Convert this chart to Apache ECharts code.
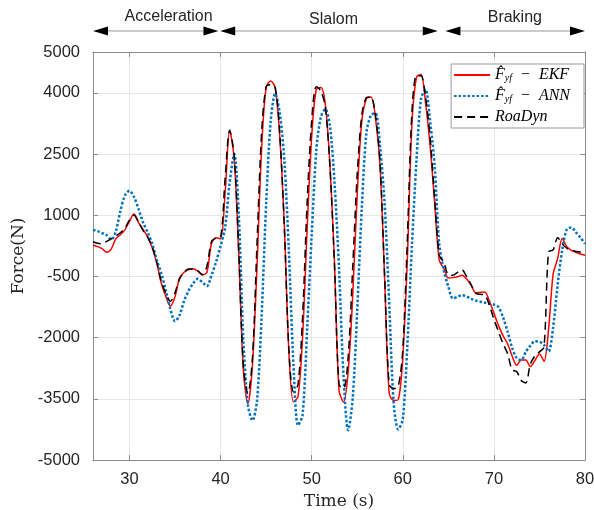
<!DOCTYPE html>
<html>
<head>
<meta charset="utf-8">
<script src="https://cdn.jsdelivr.net/npm/echarts@6/dist/echarts.min.js"></script>
<style>
  html, body { margin: 0; padding: 0; background: #fff; }
  #main { width: 594px; height: 510px; }
</style>
</head>
<body>
<div id="main"></div>
<script>
// time axis (s)
const time = [
  26, 26.5, 27, 27.5, 28, 28.5, 29, 29.5, 30, 30.5,
  31, 31.5, 32, 32.5, 33, 33.5, 34, 34.5, 35, 35.5,
  36, 36.5, 37, 37.5, 38, 38.5, 39, 39.5, 40, 40.5,
  41, 41.5, 42, 42.5, 43, 43.5, 44, 44.5, 45, 45.5,
  46, 46.5, 47, 47.5, 48, 48.5, 49, 49.5, 50, 50.5,
  51, 51.5, 52, 52.5, 53, 53.5, 54, 54.5, 55, 55.5,
  56, 56.5, 57, 57.5, 58, 58.5, 59, 59.5, 60, 60.5,
  61, 61.5, 62, 62.5, 63, 63.5, 64, 64.5, 65, 65.5,
  66, 66.5, 67, 67.5, 68, 68.5, 69, 69.5, 70, 70.5,
  71, 71.5, 72, 72.5, 73, 73.5, 74, 74.5, 75, 75.5,
  76, 76.5, 77, 77.5, 78, 78.5, 79, 79.5, 80
];

// lateral force estimates (N)
const ekf = [
  270, 230, 180, 90, 170, 420, 520, 640, 850, 1030,
  820, 650, 470, 200, -180, -670, -1000, -1230, -1000, -540,
  -400, -330, -310, -370, -460, -400, 300, 450, 420, 1540,
  3080, 2370, 20, -2790, -3620, -2670, -260, 2610, 4130, 4290,
  4120, 2910, 750, -2350, -3570, -3450, -2000, 650, 2930, 4080,
  4130, 3720, 2250, -150, -3290, -3580, -2850, -1000, 1510, 3300,
  3850, 3900, 3400, 2220, -500, -3350, -3540, -3520, -2490, -90,
  3230, 4380, 4450, 3750, 2700, 1300, -100, -300, -540, -530,
  -510, -470, -560, -720, -900, -890, -880, -1100, -1400, -1700,
  -1950, -2150, -2450, -2680, -2550, -2550, -2710, -2560, -2400, -2580,
  -1800, -450, -60, 430, 230, 140, 90, 50, 20
];

const ann = [
  640, 610, 560, 510, 400, 600, 1100, 1480, 1600, 1450,
  1150, 820, 580, 300, -100, -430, -850, -1300, -1600, -1450,
  -1100, -850, -670, -560, -640, -740, -480, -150, 250, 700,
  1800, 2500, 1000, -2050, -3650, -4030, -3550, -1500, 1250, 3300,
  3980, 3500, 2350, 100, -2650, -4150, -3900, -1800, 500, 2560,
  3400, 3600, 3200, 1830, -300, -2950, -4270, -3500, -1330, 1170,
  3000, 3450, 3500, 2700, 1300, -1100, -3600, -4250, -4000, -2200,
  230, 2330, 3850, 4080, 3300, 2200, 300, -350, -750, -1040,
  -1000, -960, -990, -1050, -1090, -1120, -1145, -1170, -1190, -1250,
  -1500, -1850, -2250, -2500, -2550, -2350, -2200, -2090, -2100, -2180,
  -2340, -1750, -700, 150, 650, 700, 580, 450, 300
];

const roadyn = [
  350, 310, 300, 360, 420, 490, 570, 680, 880, 1000,
  830, 620, 460, 220, -150, -630, -920, -1110, -900, -560,
  -400, -320, -320, -360, -460, -250, 350, 440, 460, 1900,
  3080, 2450, 100, -2700, -3370, -2500, 300, 3000, 4150, 4200,
  4130, 3000, 700, -2300, -3330, -3150, -1500, 1300, 3300, 4150,
  4050, 3650, 2200, -200, -3150, -3250, -2500, -300, 2000, 3450,
  3880, 3900, 3450, 2300, -450, -3150, -3250, -3200, -2300, 400,
  3500, 4420, 4420, 3900, 2900, 1400, 20, -150, -460, -470,
  -400, -340, -500, -700, -910, -940, -960, -1200, -1550, -1850,
  -2150, -2390, -2790, -2830, -3050, -3110, -2650, -2450, -2350, -2230,
  100, 150, 450, 300, 190, 150, 110, 100, 130
];

// manoeuvre phases shown above the plot
const phaseNames = ['Acceleration', 'Slalom', 'Braking'];
const phaseStart = [26, 39.96, 64.68];
const phaseEnd = [39.77, 63.84, 80];
const phaseLabelAt = [34.3, 52.4, 72.3];

const xMin = 26, xMax = 80;
const yMin = -5000, yMax = 5000, yStep = 1500;

const axisGray = '#8c8c8c';
const labelFont = { fontFamily: 'Liberation Sans', fontSize: 16.5, color: '#262626' };
const nameFont = { fontFamily: 'DejaVu Serif', fontSize: 17, color: '#262626' };
const legendRich = {
  m: { fontFamily: 'Liberation Serif', fontStyle: 'italic', fontSize: 16, lineHeight: 16, color: '#000' },
  s: { fontFamily: 'Liberation Serif', fontStyle: 'italic', fontSize: 10, lineHeight: 8, verticalAlign: 'bottom', color: '#000' }
};

function pairs(vals) {
  return time.map((t, i) => [t, vals[i]]);
}

function boxAxis(pos, isX) {
  const a = {
    type: 'value',
    position: pos,
    min: isX ? xMin : yMin,
    max: isX ? xMax : yMax,
    axisLine: { show: true, onZero: false, lineStyle: { color: axisGray, width: 1 } },
    axisTick: { show: true, inside: true, length: 5, lineStyle: { color: axisGray } },
    axisLabel: { show: false },
    splitLine: { show: false }
  };
  if (isX) a.splitNumber = 5; else a.interval = yStep;
  return a;
}

const chart = echarts.init(document.getElementById('main'));

const option = {
  animation: false,
  backgroundColor: '#fff',
  grid: { left: 93, right: 9, top: 52, bottom: 50, containLabel: false, outerBoundsMode: 'none' },
  legend: {
    orient: 'vertical',
    right: 10,
    top: 64,
    itemWidth: 36,
    itemHeight: 14,
    itemGap: 5,
    padding: [3, 14, 3, 2],
    borderColor: '#999',
    borderWidth: 1,
    backgroundColor: '#fff',
    itemStyle: { color: 'transparent', borderWidth: 0, opacity: 0 },
    data: ['EKF', 'ANN', 'RoaDyn'],
    formatter: function (name) {
      if (name === 'RoaDyn') return '{m|RoaDyn}';
      return '{m|F\u0302}{s|yf}{m|  \u2212  ' + name + '}';
    },
    textStyle: { rich: legendRich }
  },
  xAxis: [
    Object.assign(boxAxis('bottom', true), {
      name: 'Time (s)',
      nameLocation: 'middle',
      nameGap: 31,
      nameTextStyle: nameFont,
      axisLabel: Object.assign({ show: true, margin: 11, showMinLabel: false }, labelFont),
      splitLine: { show: true, lineStyle: { color: '#e6e6e6' } }
    }),
    boxAxis('top', true)
  ],
  yAxis: [
    Object.assign(boxAxis('left', false), {
      name: 'Force(N)',
      nameLocation: 'middle',
      nameGap: 60,
      nameTextStyle: nameFont,
      axisLabel: Object.assign({ show: true, margin: 13, formatter: v => String(v) }, labelFont),
      splitLine: { show: true, lineStyle: { color: '#e6e6e6' } }
    }),
    boxAxis('right', false)
  ],
  series: [
    {
      name: 'EKF', type: 'line', data: pairs(ekf),
      symbol: 'none', smooth: 0.3,
      lineStyle: { color: '#ff0000', width: 1.5 },
      itemStyle: { color: '#ff0000' }
    },
    {
      name: 'ANN', type: 'line', data: pairs(ann),
      symbol: 'none', smooth: 0.3,
      lineStyle: { color: '#0072bd', width: 2.5, type: [2.5, 2] },
      itemStyle: { color: '#0072bd' }
    },
    {
      name: 'RoaDyn', type: 'line', data: pairs(roadyn),
      symbol: 'none', smooth: 0.3,
      lineStyle: { color: '#000', width: 1.5, type: [8, 5] },
      itemStyle: { color: '#000' }
    }
  ]
};

chart.setOption(option);

// phase arrows and labels
const arrowY = 31, headLen = 15, headHalf = 4.5;
const labelY = [17, 19.5, 17.5];
const elements = [];
phaseNames.forEach(function (name, i) {
  const x0 = chart.convertToPixel({ xAxisIndex: 0 }, phaseStart[i]);
  const x1 = chart.convertToPixel({ xAxisIndex: 0 }, phaseEnd[i]);
  const xl = chart.convertToPixel({ xAxisIndex: 0 }, phaseLabelAt[i]);
  elements.push({
    type: 'line', silent: true,
    shape: { x1: x0 + headLen, y1: arrowY, x2: x1 - headLen, y2: arrowY },
    style: { stroke: '#999', lineWidth: 1 }
  });
  elements.push({
    type: 'polygon', silent: true,
    shape: { points: [[x0, arrowY], [x0 + headLen, arrowY - headHalf], [x0 + headLen, arrowY + headHalf]] },
    style: { fill: '#000' }
  });
  elements.push({
    type: 'polygon', silent: true,
    shape: { points: [[x1, arrowY], [x1 - headLen, arrowY - headHalf], [x1 - headLen, arrowY + headHalf]] },
    style: { fill: '#000' }
  });
  elements.push({
    type: 'text', silent: true,
    x: xl, y: labelY[i],
    style: {
      text: name, fill: '#262626',
      font: '16px "Liberation Sans"',
      align: 'center', verticalAlign: 'middle'
    }
  });
});
chart.setOption({ graphic: { elements: elements } });
</script>
</body>
</html>
